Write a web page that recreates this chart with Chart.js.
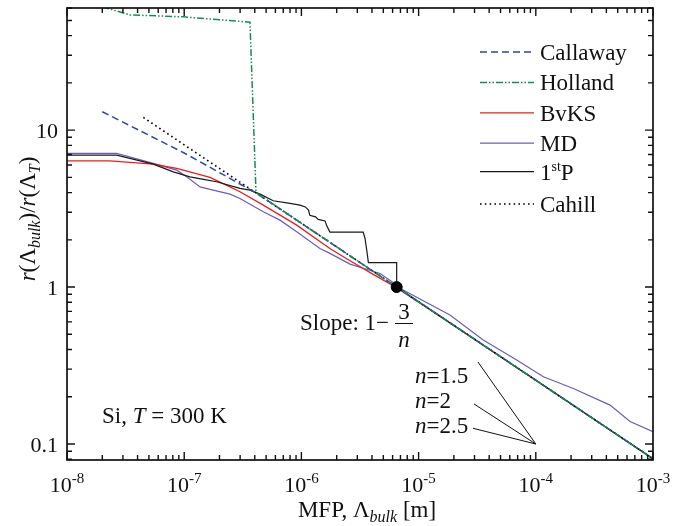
<!DOCTYPE html>
<html><head><meta charset="utf-8">
<script src="https://cdn.jsdelivr.net/npm/chart.js@4/dist/chart.umd.min.js"></script>
<style>html,body{margin:0;padding:0;background:#fff;}canvas{display:block;}</style>
</head><body>
<canvas id="c" width="684" height="526"></canvas>
<script>
// ---- tick labels ----
const xTickValues = [1e-8, 1e-7, 1e-6, 1e-5, 1e-4, 1e-3];
const xTickExponents = ['-8', '-7', '-6', '-5', '-4', '-3'];
const yTickValues = [0.1, 1, 10];
const yTickLabels = ['0.1', '1', '10'];

// ---- series (MFP [m], r(Λbulk)/r(ΛT)) ----
const mfpCallaway = [2e-8, 1e-7, 4.1e-7, 1e-6, 6.5e-6, 1e-5, 1e-4, 1e-3];
const rCallaway   = [13.1, 7.15, 3.98, 2.55, 1.0, 0.806, 0.255, 0.0806];

const mfpHolland = [2e-8, 3.45e-8, 9.8e-8, 3.64e-7, 4.1e-7, 1e-6, 6.5e-6, 1e-5, 1e-4, 1e-3];
const rHolland   = [61, 54.2, 52.7, 48.7, 4.0, 2.55, 1.0, 0.806, 0.255, 0.0806];

const mfpBvKS = [1e-8, 2.33e-8, 5.45e-8, 8.63e-8, 1.2e-7, 1.66e-7, 2.46e-7, 2.99e-7, 4.73e-7, 9.12e-7, 1.75e-6, 2.6e-6, 4.1e-6, 6.5e-6, 1e-5, 1e-4, 1e-3];
const rBvKS   = [6.37, 6.37, 6.07, 5.70, 5.35, 5.0, 4.35, 4.05, 3.33, 2.48, 1.76, 1.47, 1.205, 0.99, 0.8, 0.255, 0.0806];

const mfpMD = [1e-8, 2.65e-8, 5.45e-8, 8.63e-8, 1.05e-7, 1.365e-7, 1.66e-7, 2.46e-7, 2.99e-7, 4.73e-7, 6.56e-7, 9.12e-7, 1.44e-6, 1.75e-6, 2.6e-6, 4.69e-6, 6.5e-6, 6.93e-6, 1.85e-5, 3.56e-5, 6.87e-5, 1.16e-4, 2.09e-4, 4.3e-4, 6.37e-4, 1e-3];
const rMD   = [7.1, 7.1, 6.14, 5.56, 5.04, 4.35, 4.19, 3.91, 3.67, 3.02, 2.67, 2.25, 1.76, 1.64, 1.40, 1.22, 1.03, 0.981, 0.663, 0.46, 0.343, 0.268, 0.226, 0.177, 0.139, 0.12];

const mfp1stP = [1e-8, 2.65e-8, 5.45e-8, 8.07e-8, 1.12e-7, 1.46e-7, 1.89e-7, 2.99e-7, 3.64e-7, 4.44e-7, 5.75e-7, 8e-7, 9.73e-7, 1.08e-6, 1.15e-6, 1.18e-6, 1.32e-6, 1.39e-6, 1.59e-6, 1.64e-6, 1.75e-6, 3.37e-6, 3.49e-6, 3.61e-6, 3.73e-6, 6.5e-6, 6.5e-6, 1e-5, 1e-4, 1e-3];
const r1stP   = [6.93, 6.93, 6.07, 5.42, 5.04, 4.85, 4.69, 4.25, 4.15, 3.91, 3.55, 3.41, 3.33, 3.24, 3.09, 2.87, 2.80, 2.70, 2.64, 2.48, 2.24, 2.24, 2.04, 1.72, 1.43, 1.43, 1.0, 0.806, 0.255, 0.0806];

const mfpCahill = [4.48e-8, 1e-7, 4.1e-7, 1e-6, 6.5e-6, 1e-5, 1e-4, 1e-3];
const rCahill   = [12.05, 8.06, 3.98, 2.55, 1.0, 0.806, 0.255, 0.0806];

// reference point (Λ_T)
const mfpRef = [6.5e-6];
const rRef   = [1.0];

// leader lines for n labels: start point -> common end point
const leaderStartX = [3.21e-5, 2.97e-5, 2.91e-5];
const leaderStartY = [0.333, 0.18, 0.126];
const leaderEndX = 1e-4;
const leaderEndY = 0.1;
const nLabels = ['1.5', '2', '2.5'];

const legendNames = ['Callaway', 'Holland', 'BvKS', 'MD', '1stP', 'Cahill'];

// ---- build datasets ----
const pts = (xs, ys) => xs.map((x, i) => ({x, y: ys[i]}));
const line = (label, xs, ys, color, width, dash, order) => ({
  label, data: pts(xs, ys), showLine: true, borderColor: color, backgroundColor: color,
  borderWidth: width, borderDash: dash, pointRadius: 0, order, tension: 0
});
const datasets = [
  line('Callaway', mfpCallaway, rCallaway, '#2a48a8', 1.5, [7, 4], 2),
  line('Holland', mfpHolland, rHolland, '#13904f', 1.5, [7, 2, 1.5, 2, 1.5, 2], 1),
  line('BvKS', mfpBvKS, rBvKS, '#f01c1c', 1.3, [], 5),
  line('MD', mfpMD, rMD, '#6a5cc0', 1.2, [], 6),
  line('1stP', mfp1stP, r1stP, '#1a1a1a', 1.2, [], 4),
  line('Cahill', mfpCahill, rCahill, '#000000', 1.6, [1.6, 3.2], 3),
];
leaderStartX.forEach((x, i) => {
  datasets.push(line('lead' + i, [x, leaderEndX], [leaderStartY[i], leaderEndY], '#111', 1, [], 0));
});
datasets.push({label: 'ref', data: pts(mfpRef, rRef), pointRadius: 5.5, pointBackgroundColor: '#000',
  pointBorderColor: '#000', borderColor: '#000', showLine: false, order: -1});

// ---- drawing helpers ----
const SERIF = '"Liberation Serif", "Times New Roman", serif';
const fnt = (s, it) => (it ? 'italic ' : '') + s + 'px ' + SERIF;
function runs(ctx, list, x, y, align) {
  let total = 0;
  list.forEach(r => { ctx.font = fnt(r.s, r.i); r.w = ctx.measureText(r.t).width; total += r.w; });
  let cx = align === 'center' ? x - total / 2 : align === 'right' ? x - total : x;
  list.forEach(r => { ctx.font = fnt(r.s, r.i); ctx.fillText(r.t, cx, y + (r.dy || 0)); cx += r.w; });
  return total;
}

const decor = {
  id: 'decor',
  afterDraw(chart) {
    const {ctx, chartArea: a, scales: {x, y}} = chart;
    ctx.save();
    ctx.fillStyle = '#111'; ctx.strokeStyle = '#111';
    ctx.textAlign = 'left'; ctx.textBaseline = 'alphabetic';
    // frame
    ctx.lineWidth = 1.7;
    ctx.strokeRect(a.left, a.top, a.right - a.left, a.bottom - a.top);
    // ticks
    ctx.lineWidth = 1.4;
    ctx.beginPath();
    for (let d = -8; d <= -3; d++) for (let m = 1; m <= 9; m++) {
      const v = m * Math.pow(10, d);
      if (v < x.min * 0.999 || v > x.max * 1.001) continue;
      const px = x.getPixelForValue(v), L = m === 1 ? 8 : 5;
      ctx.moveTo(px, a.bottom); ctx.lineTo(px, a.bottom - L);
      ctx.moveTo(px, a.top); ctx.lineTo(px, a.top + L);
    }
    for (let d = -2; d <= 1; d++) for (let m = 1; m <= 9; m++) {
      const v = m * Math.pow(10, d);
      if (v < y.min || v > y.max) continue;
      const py = y.getPixelForValue(v), L = m === 1 ? 8 : 5;
      ctx.moveTo(a.left, py); ctx.lineTo(a.left + L, py);
      ctx.moveTo(a.right, py); ctx.lineTo(a.right - L, py);
    }
    ctx.stroke();
    // x tick labels
    xTickValues.forEach((v, i) => {
      const px = x.getPixelForValue(v);
      runs(ctx, [{t: '10', s: 22}, {t: xTickExponents[i], s: 15, dy: -9}], px, 492, 'center');
    });
    // y tick labels
    yTickValues.forEach((v, i) => {
      const py = y.getPixelForValue(v);
      runs(ctx, [{t: yTickLabels[i], s: 22}], a.left - 9, py + 7.5, 'right');
    });
    // x title
    runs(ctx, [{t: 'MFP, Λ', s: 23}, {t: 'bulk', s: 16, i: true, dy: 5}, {t: ' [m]', s: 23}], 367, 517, 'center');
    // y title
    ctx.save();
    ctx.translate(35, 219); ctx.rotate(-Math.PI / 2);
    runs(ctx, [{t: 'r', s: 23, i: true}, {t: '(Λ', s: 23}, {t: 'bulk', s: 16, i: true, dy: 5},
      {t: ')/', s: 23}, {t: 'r', s: 23, i: true}, {t: '(Λ', s: 23}, {t: 'T', s: 16, i: true, dy: 5}, {t: ')', s: 23}], 0, 0, 'center');
    ctx.restore();
    // legend
    legendNames.forEach((name, i) => {
      const ds = chart.data.datasets.find(d => d.label === name);
      const base = 60 + i * 30.4;
      const ly = base - 8 + (name === '1stP' ? -2 : 0);
      ctx.save();
      ctx.strokeStyle = ds.borderColor; ctx.lineWidth = ds.borderWidth;
      ctx.setLineDash(ds.borderDash || []);
      ctx.beginPath(); ctx.moveTo(480, ly); ctx.lineTo(534, ly); ctx.stroke();
      ctx.restore();
      if (name === '1stP') {
        runs(ctx, [{t: '1', s: 23}, {t: 'st', s: 14, dy: -9}, {t: 'P', s: 23}], 540, base - 2, 'left');
      } else {
        runs(ctx, [{t: name, s: 23}], 540, base, 'left');
      }
    });
    // slope annotation
    runs(ctx, [{t: 'Slope: 1−', s: 23}], 300, 330, 'left');
    runs(ctx, [{t: '3', s: 23}], 404, 319, 'center');
    ctx.lineWidth = 1; ctx.beginPath(); ctx.moveTo(395, 323.5); ctx.lineTo(413, 323.5); ctx.stroke();
    runs(ctx, [{t: 'n', s: 23, i: true}], 404, 347, 'center');
    // n labels
    nLabels.forEach((lab, i) => {
      runs(ctx, [{t: 'n', s: 23, i: true}, {t: '=' + lab, s: 23}], 415, 383 + i * 25, 'left');
    });
    // material label
    runs(ctx, [{t: 'Si, ', s: 23}, {t: 'T', s: 23, i: true}, {t: ' = 300 K', s: 23}], 102, 423, 'left');
    ctx.restore();
  }
};

new Chart(document.getElementById('c'), {
  type: 'scatter',
  data: {datasets},
  options: {
    responsive: false, animation: false, devicePixelRatio: 1,
    layout: {padding: {left: 0, right: 31, top: 8, bottom: 0}},
    plugins: {legend: {display: false}, tooltip: {enabled: false}},
    scales: {
      x: {type: 'logarithmic', min: 1e-8, max: 1e-3, grid: {display: false}, border: {display: false},
          ticks: {display: false}, afterFit: s => { s.height = 66; }},
      y: {type: 'logarithmic', min: 0.0791, max: 60, grid: {display: false}, border: {display: false},
          ticks: {display: false}, afterFit: s => { s.width = 67; }}
    }
  },
  plugins: [decor]
});
</script>
</body></html>
